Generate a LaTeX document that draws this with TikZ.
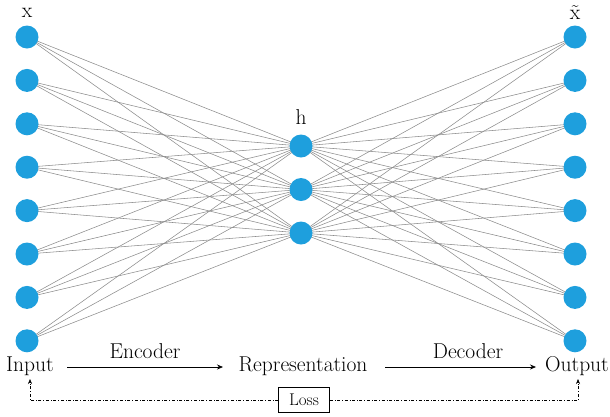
\documentclass[tikz,border=0pt]{standalone}
\usepackage{fontspec}
\usetikzlibrary{arrows.meta}
\definecolor{nodeblue}{HTML}{1E9FDD}
\newcommand{\biglbl}{\fontsize{21.5}{24}\selectfont}
\newcommand{\losslbl}{\fontsize{17}{19}\selectfont}
\tikzset{
  neuron/.style={circle, fill=nodeblue, minimum size=23pt, inner sep=0pt},
  edge/.style={draw=gray!90, line width=0.55pt},
  lbl/.style={font=\biglbl, inner sep=1pt},
  arr/.style={-{Stealth[length=6pt,width=5pt]}, line width=0.7pt},
  lossline/.style={dash dot, line width=0.5pt, -{Stealth[length=5pt,width=4pt]}}
}
\begin{document}
\begin{tikzpicture}[x=1pt,y=-1pt]
\useasboundingbox (0,0) rectangle (610,416);
% coordinates
\foreach \i/\y in {1/37,2/80.4,3/123.8,4/167.2,5/210.6,6/254,7/297.4,8/340.8}{
  \coordinate (L\i) at (27,\y);
  \coordinate (R\i) at (575,\y);
}
\foreach \j/\y in {1/146,2/189.5,3/233}{
  \coordinate (M\j) at (301,\y);
}
% edges
\foreach \i in {1,...,8}{
  \foreach \j in {1,2,3}{
    \draw[edge] (L\i) -- (M\j);
    \draw[edge] (M\j) -- (R\i);
  }
}
% neurons
\foreach \i in {1,...,8}{
  \node[neuron] (n-L\i) at (L\i) {};
  \node[neuron] (n-R\i) at (R\i) {};
}
\foreach \j in {1,2,3}{
  \node[neuron] (n-M\j) at (M\j) {};
}
% layer labels
\node[lbl] (xlab) at (27,13) {x};
\node[lbl] (xtlab) at (575,13) {\~{x}};
\node[lbl] (hlab) at (301,117) {h};
% bottom row
\node[lbl] (input) at (30,366) {Input};
\node[lbl] (repr) at (303,366) {Representation};
\node[lbl] (output) at (577,366) {Output};
\coordinate (a1s) at (67,367);
\coordinate (a1e) at (223,367);
\coordinate (a2s) at (385,367);
\coordinate (a2e) at (536,367);
\draw[arr] (a1s) -- (a1e);
\draw[arr] (a2s) -- (a2e);
\node[lbl] (enc) at (145,351) {Encoder};
\node[lbl] (dec) at (468,351) {Decoder};
% loss
\node[draw, line width=0.6pt, minimum width=51pt, minimum height=25pt, font=\losslbl] (loss) at (304,400) {Loss};
\coordinate (lc) at (30,400);
\coordinate (rc) at (578,400);
\draw[lossline] (loss.west) -- (lc) -- (30,379);
\draw[lossline] (loss.east) -- (rc) -- (578,379);
\end{tikzpicture}
\end{document}
